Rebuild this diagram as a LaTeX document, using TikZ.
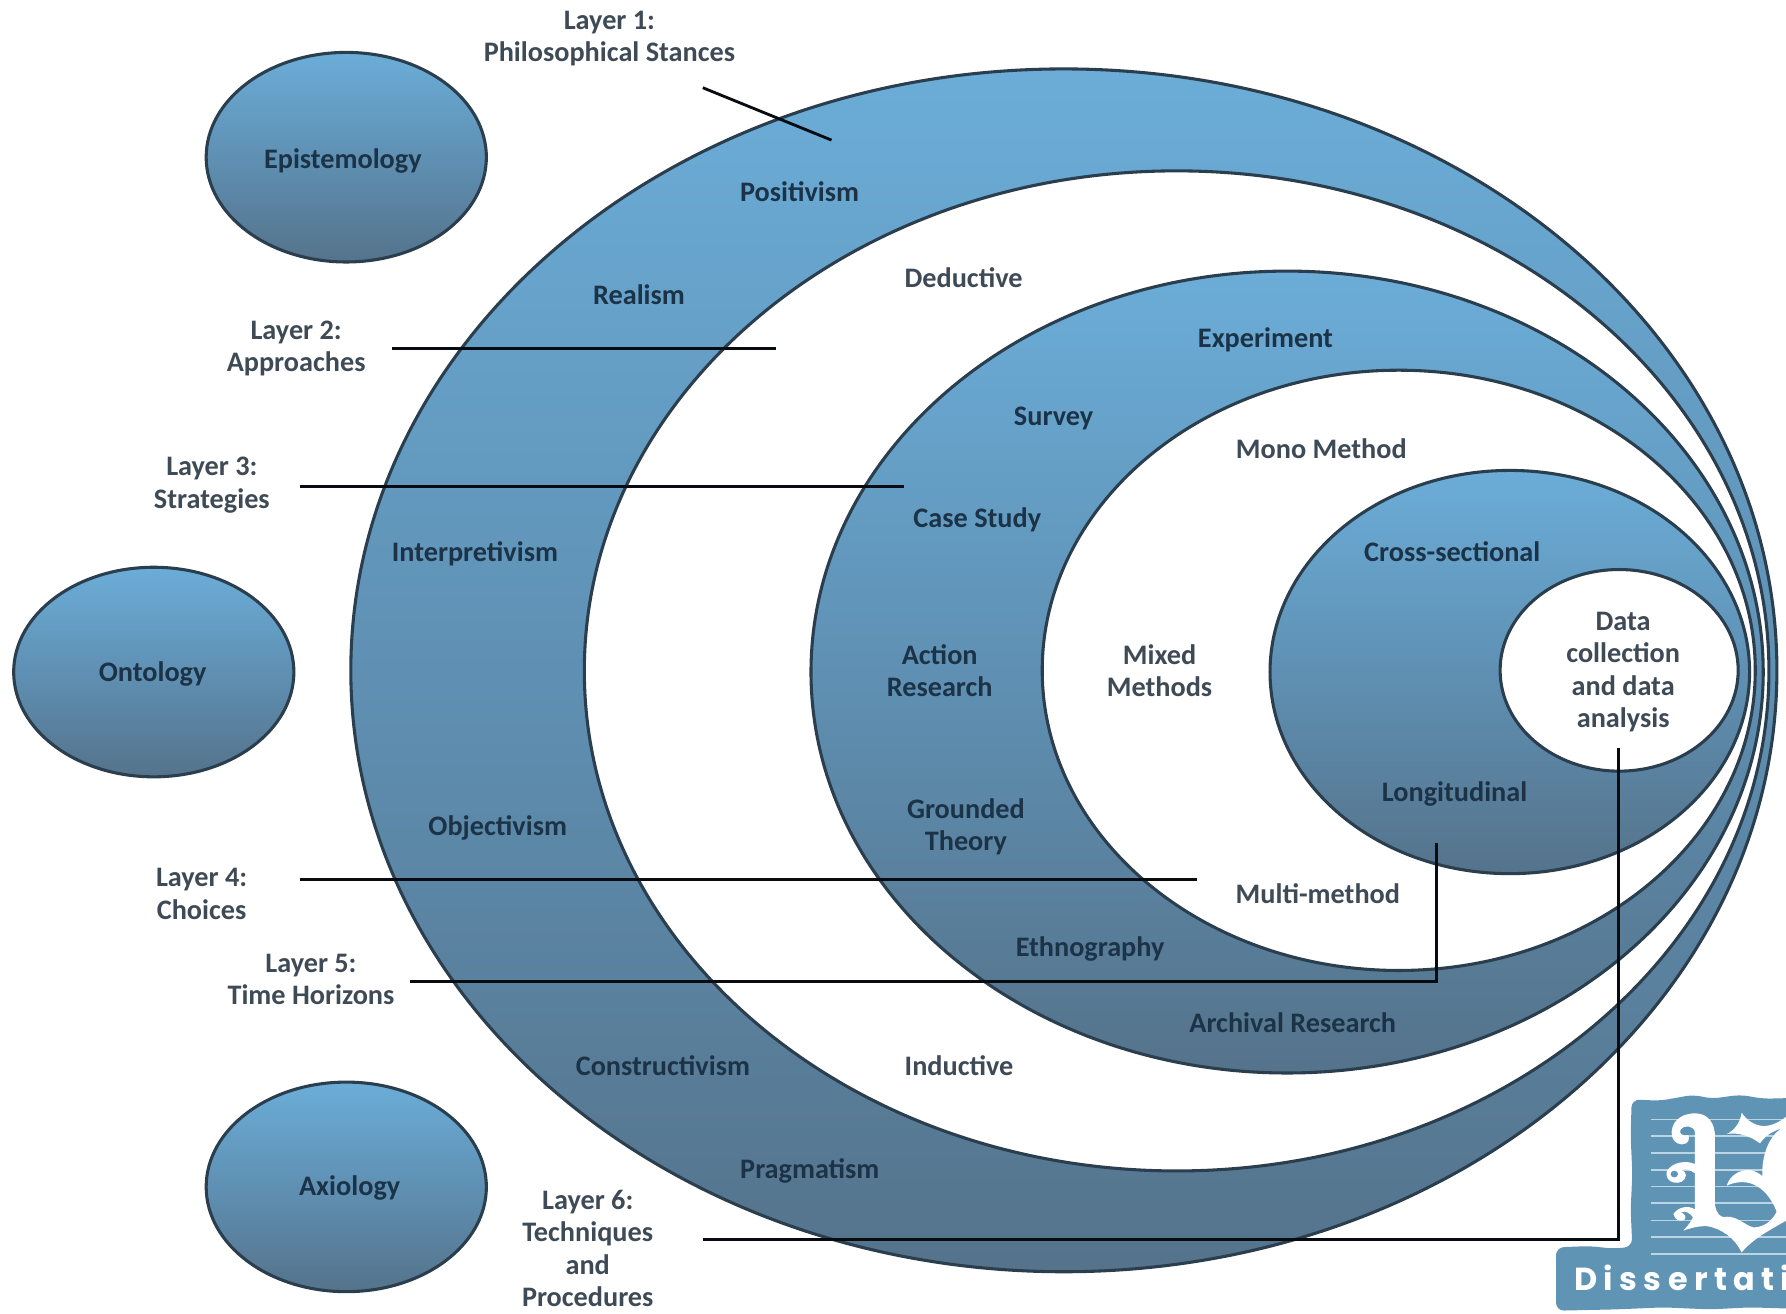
\documentclass[tikz,border=0pt]{standalone}
\usepackage{fontspec}
\setmainfont{Carlito}
\newfontfamily\logofont{Poppins}
\usetikzlibrary{shapes.geometric}
\definecolor{topblue}{HTML}{6BADD8}
\definecolor{midblue}{HTML}{5F90B3}
\definecolor{lowblue}{HTML}{55738B}
\definecolor{edgeink}{HTML}{2A3E4E}
\definecolor{labelink}{HTML}{1C3347}
\definecolor{greyink}{HTML}{3E4A56}
\definecolor{logoblue}{HTML}{6094B5}
\definecolor{logostripe}{HTML}{BCD5E5}
\tikzset{
  x=0.5pt,y=-0.5pt,
  ring/.style={ellipse,draw=edgeink,line width=1.35pt,inner sep=0pt,outer sep=0pt,
     top color=topblue,bottom color=lowblue,middle color=midblue},
  hole/.style={ellipse,draw=edgeink,line width=1.35pt,fill=white,inner sep=0pt,outer sep=0pt},
  lbl/.style={font=\fontsize{12.4}{14.25}\selectfont\bfseries,text=labelink,align=center,inner sep=0pt},
  wlbl/.style={lbl,text=greyink},
  leader/.style={draw=black!80!edgeink,line width=1.25pt,line join=miter},
  logoline/.style={draw=logostripe,line width=0.7pt},
  logoglyph/.style={fill=white,draw=none}
}
\begin{document}
\begin{tikzpicture}
\useasboundingbox (0,0) rectangle (1568,1153);
% rings
\node[ring,minimum width=626pt,minimum height=528pt] (band1) at (934,588.5) {};
\node[hole,minimum width=520pt,minimum height=439pt] (white1) at (1033,589) {};
\node[ring,minimum width=418pt,minimum height=352pt] (band2) at (1130,590) {};
\node[hole,minimum width=313pt,minimum height=263.5pt] (white2) at (1228,588.5) {};
\node[ring,minimum width=210.5pt,minimum height=177pt] (band3) at (1325.5,590) {};
\node[hole,minimum width=104.5pt,minimum height=88.5pt] (core) at (1421.5,588.5) {};
% side ellipses
\node[ring,minimum width=123pt,minimum height=92pt] (epi) at (304,138) {};
\node[ring,minimum width=123pt,minimum height=92pt] (onto) at (135,590) {};
\node[ring,minimum width=123pt,minimum height=92pt] (axio) at (304,1042) {};
\node[lbl] (tepi) at (301,141) {Epistemology};
\node[lbl] (tonto) at (134,592) {Ontology};
\node[lbl] (taxio) at (307,1043) {Axiology};
\node[wlbl] (tcore) at (1425,590) {Data\\collection\\and data\\analysis};
% ring labels
\node[lbl] (t1) at (702,168) {Positivism};
\node[lbl] (t2) at (561,259) {Realism};
\node[lbl] (t3) at (417,486) {Interpretivism};
\node[lbl] (t4) at (437,727) {Objectivism};
\node[lbl] (t5) at (582,936) {Constructivism};
\node[lbl] (t6) at (711,1028) {Pragmatism};
\node[wlbl] (t7) at (846,244) {Deductive};
\node[wlbl] (t8) at (842,936) {Inductive};
\node[lbl] (t9) at (1111,298) {Experiment};
\node[lbl] (t10) at (925,367) {Survey};
\node[lbl] (t11) at (858,456) {Case Study};
\node[lbl] (t12) at (825,589) {Action\\Research};
\node[lbl] (t13) at (848,726) {Grounded\\Theory};
\node[lbl] (t14) at (957,833) {Ethnography};
\node[lbl] (t15) at (1135,898) {Archival Research};
\node[wlbl] (t16) at (1160,394) {Mono Method};
\node[wlbl] (t17) at (1018,589) {Mixed\\Methods};
\node[wlbl] (t18) at (1157,785) {Multi-method};
\node[lbl] (t19) at (1275,484) {Cross-sectional};
\node[lbl] (t20) at (1277,697) {Longitudinal};
% layer labels
\node[wlbl] (l1) at (535,34) {Layer 1:\\Philosophical Stances};
\node[wlbl] (l2) at (260,306) {Layer 2:\\Approaches};
\node[wlbl] (l3) at (186,426) {Layer 3:\\Strategies};
\node[wlbl] (l4) at (177,785) {Layer 4:\\Choices};
\node[wlbl] (l5) at (273,860) {Layer 5:\\Time Horizons};
\node[wlbl] (l6) at (516,1096) {Layer 6:\\Techniques\\and\\Procedures};
% leader ends
\coordinate (a1) at (617,77);   \coordinate (b1) at (730,123);
\coordinate (a2) at (344,306);  \coordinate (b2) at (681,306);
\coordinate (a3) at (263,427);  \coordinate (b3) at (794,427);
\coordinate (a4) at (263,772);  \coordinate (b4) at (1051,772);
\coordinate (a5) at (360,862);  \coordinate (b5) at (1261,740);
\coordinate (a6) at (617,1088); \coordinate (b6) at (1421,657);
\draw[leader] (a1) -- (b1);
\draw[leader] (a2) -- (b2);
\draw[leader] (a3) -- (b3);
\draw[leader] (a4) -- (b4);
\draw[leader] (a5) -| (b5);
\draw[leader] (a6) -| (b6);
% logo (coordinates in a local 3x grid)
\begin{scope}
\clip (0,0) rectangle (1568,1153);
\begin{scope}[shift={(1360.8,957)},x=0.1463pt,y=-0.1463pt]
\fill[logoblue,rounded corners=3.5pt]
  (245,28) -- (330,32) -- (375,24) -- (430,14) -- (485,26) -- (570,14) -- (640,26) -- (800,22)
  -- (800,658) -- (600,652) -- (480,658) -- (340,652) -- (200,658) -- (18,662) -- (18,472)
  -- (120,468) -- (190,476) -- (247,470) -- (242,360) -- (247,250) -- (242,140) -- cycle;
\foreach \yy in {88,138,188,239,289,339,391,441,492}
  \draw[logoline] (303,\yy) -- (800,\yy);
% top of stem with its curl
\fill[logoglyph] (365,125) .. controls (368,85) and (405,68) .. (440,70)
  .. controls (475,72) and (495,100) .. (495,140) -- (495,345)
  .. controls (500,370) and (510,385) .. (530,380)
  .. controls (560,378) and (585,405) .. (610,412)
  .. controls (640,412) and (665,395) .. (680,365)
  .. controls (665,325) and (640,295) .. (610,283)
  .. controls (585,272) and (555,275) .. (530,287)
  .. controls (540,255) and (570,238) .. (600,240)
  .. controls (615,242) and (628,250) .. (637,258)
  .. controls (635,200) and (655,130) .. (708,108)
  -- (800,100) -- (800,380) -- (708,392)
  .. controls (660,420) and (610,445) .. (575,487)
  .. controls (555,445) and (515,415) .. (470,408)
  .. controls (450,408) and (425,412) .. (400,422)
  .. controls (425,395) and (436,375) .. (435,345)
  -- (435,125) .. controls (430,105) and (400,105) .. (392,118)
  .. controls (385,130) and (398,140) .. (415,135)
  .. controls (420,150) and (415,162) .. (395,163)
  .. controls (375,162) and (363,145) .. (365,125) -- cycle;
% middle curl
\fill[logoglyph] (435,222) .. controls (410,210) and (365,215) .. (350,245)
  .. controls (345,270) and (370,285) .. (395,275)
  .. controls (412,265) and (412,245) .. (395,240)
  .. controls (405,235) and (420,238) .. (435,250) -- cycle;
\fill[logoblue] (373,252) ellipse [x radius=11,y radius=10];
% lower curl
\fill[logoglyph] (435,358) .. controls (415,345) and (385,350) .. (370,372)
  .. controls (375,390) and (390,397) .. (405,388)
  .. controls (410,378) and (400,368) .. (392,368)
  .. controls (405,360) and (420,368) .. (432,385) -- cycle;
% upper spur of the next stroke
\fill[logoglyph] (530,132) .. controls (552,122) and (570,100) .. (575,68)
  .. controls (590,90) and (610,105) .. (640,108)
  .. controls (665,108) and (690,95) .. (708,80) -- (708,112)
  .. controls (680,118) and (650,130) .. (630,160)
  .. controls (605,140) and (565,125) .. (530,132) -- cycle;
\node[font=\logofont\bfseries\fontsize{14}{16}\selectfont\addfontfeature{LetterSpace=20},text=white,
   anchor=base west,inner sep=0pt] (logoword) at (72,600) {Dissertati};
\end{scope}
\end{scope}
\end{tikzpicture}
\end{document}
